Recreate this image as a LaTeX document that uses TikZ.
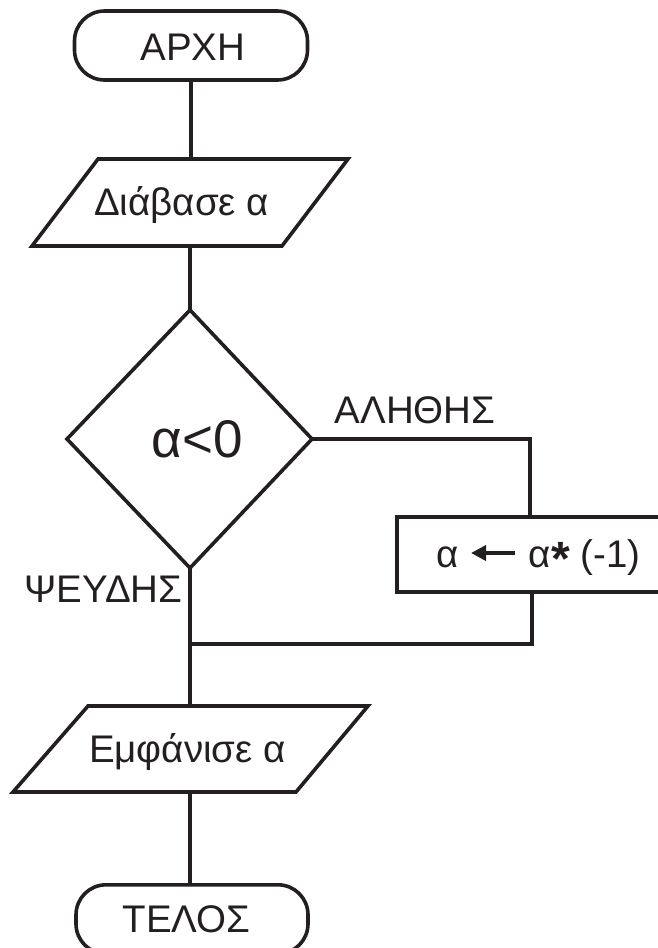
\documentclass[tikz,border=0pt]{standalone}
\usepackage{fontspec}
\setmainfont{Liberation Sans}
\usetikzlibrary{arrows.meta}
\definecolor{ink}{HTML}{231F20}
\begin{document}
\begin{tikzpicture}[x=1pt,y=-1pt, line width=3.6pt, line join=miter, draw=ink,
  lbl/.style={font=\fontsize{38.5}{46}\selectfont, text=ink, inner sep=0pt, anchor=base},
  term/.style={draw=ink, rounded corners=30pt, inner sep=0pt},
  shp/.style={draw=ink},
  con/.style={draw=ink}]
\useasboundingbox (0,0) rectangle (658,948);
\clip (0,0) rectangle (658,948);

% start
\node[term, minimum width=233pt, minimum height=69pt] (start) at (191,45.5) {};
\node[lbl] (starttxt) at (193,60) {ΑΡΧΗ};

% read
\coordinate (r1) at (98,159);
\coordinate (r2) at (348,159);
\coordinate (r3) at (282,246);
\coordinate (r4) at (32,246);
\draw[shp] (r1) -- (r2) -- (r3) -- (r4) -- cycle;
\coordinate (readtop) at (190,159);
\coordinate (readbot) at (190,246);
\node[lbl] (readtxt) at (181.5,215) {Διάβασε α};

% decision
\coordinate (dt) at (190,310);
\coordinate (dr) at (312,439);
\coordinate (db) at (190,568);
\coordinate (dl) at (67,439);
\draw[shp] (dt) -- (dr) -- (db) -- (dl) -- cycle;
\node[font=\fontsize{53}{60}\selectfont, text=ink, inner sep=0pt, anchor=base] (cond) at (197,457) {α<0};

% process box
\node[draw=ink, minimum width=275pt, minimum height=75pt, inner sep=0pt, anchor=north west] (box) at (395,515) {};
\node[lbl, anchor=base west] (a1) at (435,567) {α};
\node[lbl, anchor=base west] (a2) at (527,567) {α\raisebox{-8pt}{\scalebox{1.25}{\textbf{*}}} (-1)};
\coordinate (arrS) at (515,553);
\coordinate (arrE) at (471,553);
\draw[con, -{Triangle[length=15pt,width=15pt]}] (arrS) -- (arrE);

% labels
\node[lbl] (true) at (415,423) {ΑΛΗΘΗΣ};
\node[lbl] (false) at (103.5,602) {ΨΕΥΔΗΣ};

% output
\coordinate (p1) at (88,706);
\coordinate (p2) at (368,706);
\coordinate (p3) at (296,792);
\coordinate (p4) at (13,792);
\draw[shp] (p1) -- (p2) -- (p3) -- (p4) -- cycle;
\coordinate (outtop) at (190,706);
\coordinate (outbot) at (190,792);
\node[lbl] (outtxt) at (187.5,762) {Εμφάνισε α};

% end
\node[term, minimum width=232pt, minimum height=69pt, anchor=north] (end) at (192,883) {};
\node[lbl] (endtxt) at (186.5,932) {ΤΕΛΟΣ};

% connectors
\coordinate (boxin) at (530,515);
\coordinate (boxout) at (532,590);
\coordinate (join) at (190,644);
\draw[con] (start.south) -- (start.south |- readtop);
\draw[con] (readbot) -- (dt);
\draw[con] (dr) -| (boxin);
\draw[con] (boxout) |- (join);
\draw[con] (db) -- (outtop);
\draw[con] (outbot) -- (outbot |- end.north);
\end{tikzpicture}
\end{document}
